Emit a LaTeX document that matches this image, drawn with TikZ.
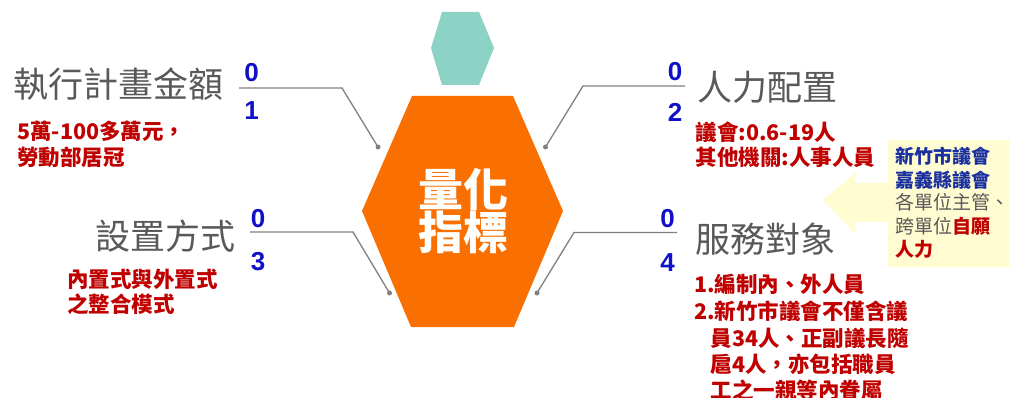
\documentclass[tikz,border=0pt]{standalone}
\usepackage{fontspec}
\setmainfont{Noto Sans CJK TC}
\newfontfamily\digitfont{Liberation Sans Bold}
\definecolor{orangehex}{HTML}{FA7000}
\definecolor{tealhex}{HTML}{8CD3C5}
\definecolor{titlegray}{HTML}{595959}
\definecolor{subred}{HTML}{C00000}
\definecolor{numblue}{HTML}{1010C8}
\definecolor{callblue}{HTML}{1A2FA0}
\definecolor{callyellow}{HTML}{FFFCD2}
\definecolor{linegray}{HTML}{808080}
\tikzset{
  titletext/.style={anchor=base west, inner sep=0pt, text=titlegray, font=\fontsize{35}{40}\selectfont},
  subtext/.style={anchor=base west, inner sep=0pt, text=subred, font=\bfseries\fontsize{21.5}{26}\selectfont},
  calltext/.style={anchor=base west, inner sep=0pt, font=\fontsize{19}{23}\selectfont},
  numtext/.style={anchor=base, inner sep=0pt, text=numblue, font=\digitfont\fontsize{26}{30}\selectfont},
  centertext/.style={anchor=base, inner sep=0pt, text=white, font=\bfseries\fontsize{45}{50}\selectfont},
  connector/.style={draw=linegray, line width=1.3pt},
  dotnode/.style={circle, fill=linegray, inner sep=0pt, minimum size=5pt},
}
\begin{document}
\begin{tikzpicture}[x=1pt, y=-1pt]
\useasboundingbox (0,0) rectangle (1020,398);
\fill[white] (0,0) rectangle (1020,398);

% hexagons
\fill[tealhex] (442,12) -- (479,12) -- (494,48) -- (479,85) -- (442,85) -- (431,48) -- cycle;
\fill[orangehex] (412,96) -- (513,96) -- (563,211) -- (514,327) -- (411,327) -- (362,211) -- cycle;
\node[centertext] (c1) at (463.5,206.5) {量化};
\node[centertext] (c2) at (463.5,249.5) {指標};

% callout arrow
\fill[callyellow] (1009,140) -- (888,140) -- (888,183) -- (855,183) -- (855,173) -- (823,200) -- (855,233) -- (855,222) -- (888,222) -- (888,267) -- (1009,267) -- cycle;

% dots and connector points
\node[dotnode] (d1) at (378,147) {};
\node[dotnode] (d2) at (545.5,147) {};
\node[dotnode] (d3) at (389.5,293) {};
\node[dotnode] (d4) at (537,293) {};
\coordinate (s1) at (239,88);  \coordinate (b1) at (342,88);
\coordinate (s2) at (685,86);  \coordinate (b2) at (583,86);
\coordinate (s3) at (250,232); \coordinate (b3) at (353,232);
\coordinate (s4) at (677,232.5); \coordinate (b4) at (574,232.5);
\draw[connector] (s1) -- (b1) -- (d1.center);
\draw[connector] (s2) -- (b2) -- (d2.center);
\draw[connector] (s3) -- (b3) -- (d3.center);
\draw[connector] (s4) -- (b4) -- (d4.center);

% numbers
\node[numtext] (n1a) at (251.5,82) {0};
\node[numtext] (n1b) at (251.5,120) {1};
\node[numtext] (n2a) at (675,81) {0};
\node[numtext] (n2b) at (675,122) {2};
\node[numtext] (n3a) at (258,227.5) {0};
\node[numtext] (n3b) at (258,270) {3};
\node[numtext] (n4a) at (667.5,227.5) {0};
\node[numtext] (n4b) at (667.5,272) {4};

% titles
\node[titletext] (t1) at (13,97.5) {執行計畫金額};
\node[titletext] (t3) at (95,249.5) {設置方式};
\node[titletext] (t2) at (697,100.5) {人力配置};
\node[titletext] (t4) at (695,252) {服務對象};

% sub texts
\node[subtext] (r1a) at (17,139.5) {5萬-100多萬元，};
\node[subtext] (r1b) at (17,166) {勞動部居冠};
\node[subtext] (r3a) at (67,287) {內置式與外置式};
\node[subtext] (r3b) at (67,312.7) {之整合模式};
\node[subtext] (r2a) at (695.5,141) {議會:0.6-19人};
\node[subtext] (r2b) at (695.5,166) {其他機關:人事人員};
\node[subtext] (r4a) at (694,292.7) {1.編制內、外人員};
\node[subtext] (r4b) at (694,319.4) {2.新竹市議會不僅含議};
\node[subtext] (r4c) at (710.5,346) {員34人、正副議長隨};
\node[subtext] (r4d) at (710.5,372.4) {扈4人，亦包括職員};
\node[subtext] (r4e) at (710.5,398.5) {工之一親等內眷屬};

% callout texts
\node[calltext, text=callblue, font=\bfseries\fontsize{19}{23}\selectfont] (k1) at (895.5,163.5) {新竹市議會};
\node[calltext, text=callblue, font=\bfseries\fontsize{19}{23}\selectfont] (k2) at (895.5,187.5) {嘉義縣議會};
\node[calltext, text=titlegray] (k3) at (895.5,210) {各單位主管、};
\node[calltext, text=titlegray] (k4) at (895.5,233.5) {跨單位\textcolor{subred}{\bfseries 自願}};
\node[calltext, text=subred, font=\bfseries\fontsize{19}{23}\selectfont] (k5) at (895.5,257) {人力};
\end{tikzpicture}
\end{document}
